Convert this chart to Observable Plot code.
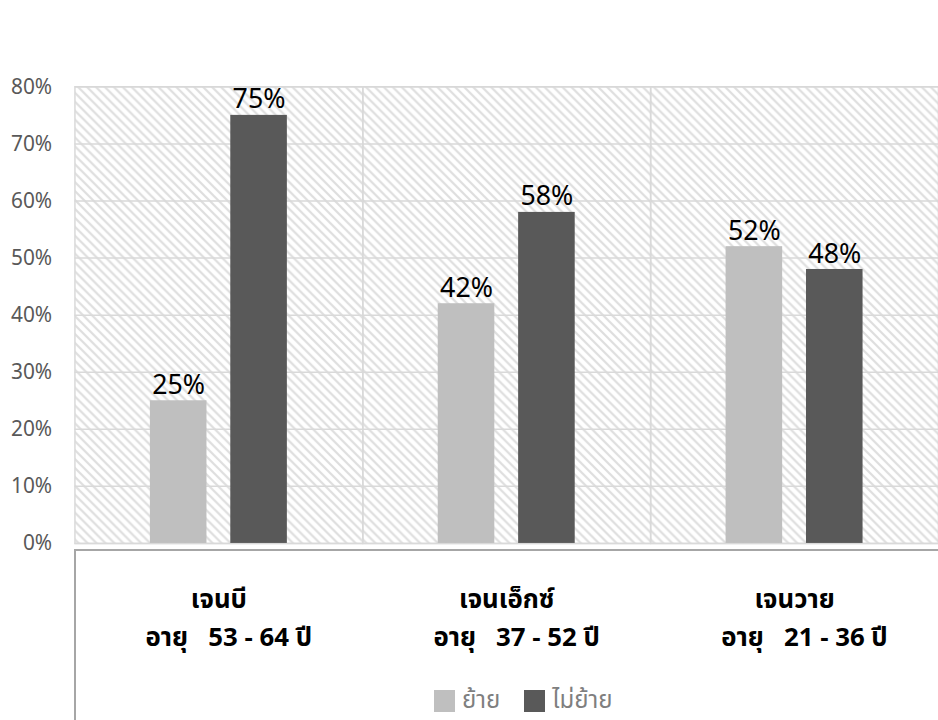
<!DOCTYPE html>
<html>
<head>
<meta charset="utf-8">
<script src="https://cdn.jsdelivr.net/npm/d3@7"></script>
<script src="https://cdn.jsdelivr.net/npm/@observablehq/plot@0.6"></script>
<style>
  html, body { margin: 0; padding: 0; background: #fff; width: 938px; height: 720px; overflow: hidden; }
  #wrap { position: relative; width: 938px; height: 720px; }
  #box { position: absolute; left: 74px; top: 549px; width: 880px; height: 180px;
         border-top: 2px solid #a6a6a6; border-left: 2px solid #a6a6a6; box-sizing: border-box; }
  #chart { position: absolute; left: 0; top: 0; }
  #legend { position: absolute; left: 434px; top: 686px; display: flex; align-items: center;
            font-family: "Noto Sans Thai", "Noto Sans", sans-serif; font-size: 24px; color: #7f7f7f; line-height: 30px; }
  .sw { width: 21px; height: 22px; display: inline-block; margin-right: 7px; }
  .item { display: flex; align-items: center; margin-right: 24px; }
</style>
</head>
<body>
<div id="wrap">
  <div id="box"></div>
  <div id="chart"></div>
  <div id="legend"></div>
</div>
<script>
const categories = ["เจนบี", "เจนเอ็กซ์", "เจนวาย"];
const ageLabels = ["อายุ   53 - 64 ปี", "อายุ   37 - 52 ปี", "อายุ   21 - 36 ปี"];
const seriesNames = ["ย้าย", "ไม่ย้าย"];
const moveValues = [0.25, 0.42, 0.52];
const stayValues = [0.75, 0.58, 0.48];
const seriesColors = ["#bfbfbf", "#595959"];
const yTicks = [0, 0.1, 0.2, 0.3, 0.4, 0.5, 0.6, 0.7, 0.8];

const data = [];
categories.forEach((c, i) => {
  data.push({cat: c, series: seriesNames[0], value: moveValues[i]});
  data.push({cat: c, series: seriesNames[1], value: stayValues[i]});
});
const catInfo = categories.map((c, i) => ({cat: c, age: ageLabels[i]}));

const font = '"Noto Sans Thai", "Noto Sans", sans-serif';
const pct = d3.format(".0%");

const chart = Plot.plot({
  width: 945,
  height: 720,
  marginLeft: 75,
  marginRight: 0,
  marginTop: 87,
  marginBottom: 173,
  style: {fontFamily: font, background: "transparent", overflow: "visible"},
  fx: {domain: categories, padding: 0, axis: null},
  x: {domain: seriesNames, paddingInner: 0.296, paddingOuter: 0.938, axis: null},
  y: {domain: [0, 0.8], axis: null},
  color: {domain: seriesNames, range: seriesColors},
  marks: [
    Plot.frame({fill: "url(#hatch)", stroke: "none"}),
    Plot.gridY(yTicks, {stroke: "#d9d9d9", strokeOpacity: 1, strokeWidth: 1.5}),
    Plot.frame({stroke: "#d9d9d9", strokeWidth: 1.5}),
    Plot.barY(data, {fx: "cat", x: "series", y: "value", fill: "series"}),
    Plot.text(data, {fx: "cat", x: "series", y: "value", text: d => pct(d.value),
      lineAnchor: "bottom", dy: -7, fontSize: 27, fill: "#000"}),
    Plot.axisY({ticks: yTicks, tickFormat: pct, tickSize: 0, tickPadding: 23,
      fontSize: 21, color: "#595959", label: null}),
    Plot.text(catInfo, {fx: "cat", text: "cat", frameAnchor: "bottom", lineAnchor: "middle", dy: 57,
      fontSize: 26, fontWeight: "bold", fill: "#000"}),
    Plot.text(catInfo, {fx: "cat", text: "age", frameAnchor: "bottom", lineAnchor: "middle", dy: 95, dx: 10,
      fontSize: 26, fontWeight: "bold", fill: "#000"})
  ]
});

// hatch pattern definition used as the plot-area background
const svg = d3.select(chart);
const defs = svg.insert("defs", ":first-child");
const pat = defs.append("pattern").attr("id", "hatch")
  .attr("patternUnits", "userSpaceOnUse").attr("width", 9).attr("height", 9);
pat.append("rect").attr("width", 9).attr("height", 9).attr("fill", "#ffffff");
pat.append("path").attr("d", "M0,0 L9,9 M-3,6 L3,12 M6,-3 L12,3")
  .attr("stroke", "#dedede").attr("stroke-width", 2.2);

document.getElementById("chart").appendChild(chart);

const legend = d3.select("#legend");
seriesNames.forEach((s, i) => {
  const it = legend.append("div").attr("class", "item");
  it.append("span").attr("class", "sw").style("background", seriesColors[i]);
  it.append("span").text(s);
});
</script>
</body>
</html>
